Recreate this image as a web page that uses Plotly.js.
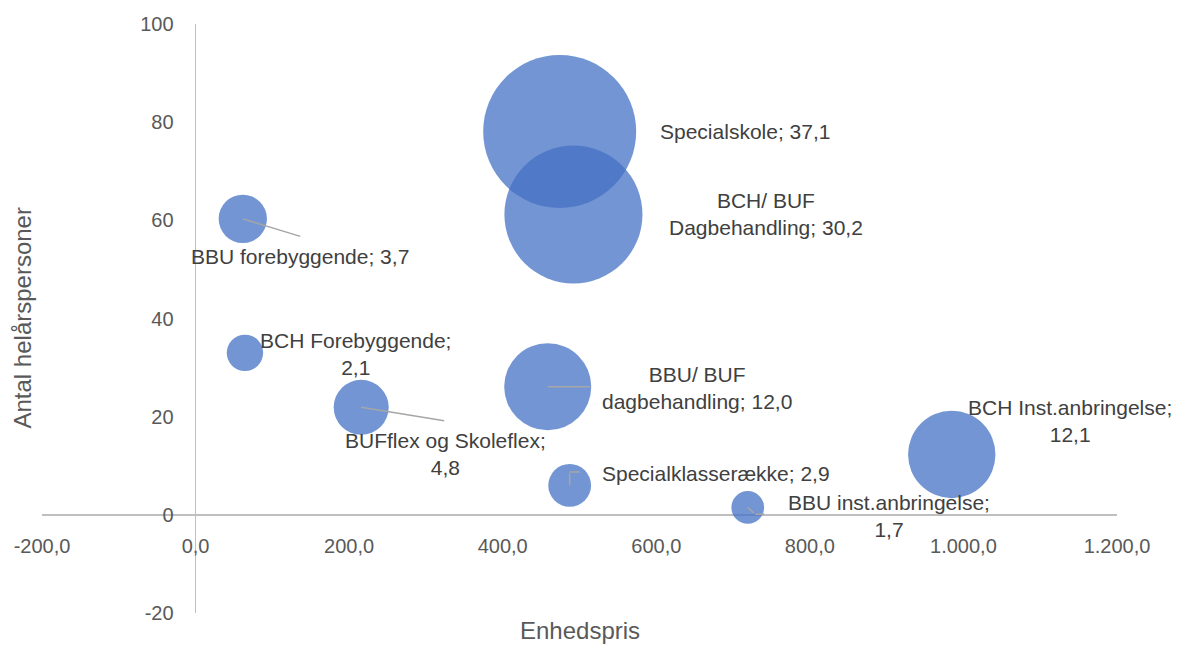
<!DOCTYPE html>
<html>
<head>
<meta charset="utf-8">
<script src="https://cdn.plot.ly/plotly-3.0.1.min.js"></script>
<style>html,body{margin:0;padding:0;background:#fff;}</style>
</head>
<body>
<div id="chart" style="width:1177px;height:645px;"></div>
<script>
// ---- data ----
const categories = ['BBU forebyggende', 'BCH Forebyggende', 'BUFflex og Skoleflex', 'BBU/ BUF dagbehandling',
  'Specialklasserække', 'BBU inst.anbringelse', 'BCH Inst.anbringelse', 'BCH/ BUF Dagbehandling', 'Specialskole'];
const unitPrice = [61.5, 64.3, 215.7, 458.6, 487.2, 719.1, 984.8, 492.1, 474.2];      // Enhedspris
const fullTimePersons = [60.3, 33.0, 21.9, 26.1, 6.0, 1.5, 12.3, 61.2, 78.1];          // Antal helårspersoner
const bubbleSize = [3.7, 2.1, 4.8, 12.0, 2.9, 1.7, 12.1, 30.2, 37.1];
const labelText = ['BBU forebyggende; 3,7', 'BCH Forebyggende;<br>2,1', 'BUFflex og Skoleflex;<br>4,8',
  'BBU/ BUF<br>dagbehandling; 12,0', 'Specialklasserække; 2,9', 'BBU inst.anbringelse;<br>1,7',
  'BCH Inst.anbringelse;<br>12,1', 'BCH/ BUF<br>Dagbehandling; 30,2', 'Specialskole; 37,1'];
const xTickValues = [-200, 0, 200, 400, 600, 800, 1000, 1200];
const xTickLabels = ['-200,0', '0,0', '200,0', '400,0', '600,0', '800,0', '1.000,0', '1.200,0'];
const yTickValues = [-20, 0, 20, 40, 60, 80, 100];
const yTickLabels = ['-20', '0', '20', '40', '60', '80', '100'];
const xTitle = 'Enhedspris';
const yTitle = 'Antal helårspersoner';

// ---- label placement (pixel offsets from each bubble) ----
const labelPlacement = [
  {xshift: 57, yshift: -38, xanchor: 'center'},
  {xshift: 111, yshift: -1, xanchor: 'center'},
  {xshift: 84, yshift: -47, xanchor: 'center'},
  {xshift: 149, yshift: -1, xanchor: 'center'},
  {xshift: 30, yshift: 12, xanchor: 'left'},
  {xshift: 141, yshift: -9, xanchor: 'center'},
  {xshift: 118, yshift: 33, xanchor: 'center'},
  {xshift: 192.5, yshift: 0, xanchor: 'center'},
  {xshift: 98, yshift: 0, xanchor: 'left'}
];
// leader line segments: [pointIndex, xshift, yshift, ax, ay]
const leaderSegments = [
  [0, 0, 0, 59, 18],
  [2, 0, 0, 84.5, 13.7],
  [3, 0, 0, 44, 0],
  [4, 0, 0, 0, -13.3],
  [4, 0, 13.3, 11.7, 0],
  [5, 0, 0, 7.5, 6.7],
  [5, 7.5, -6.7, 10.7, 0]
];

const FONT = '"Liberation Sans", Arial, sans-serif';
const maxSize = Math.max(...bubbleSize);
const maxRadius = 76.5;

const trace = {
  type: 'scatter',
  mode: 'markers',
  x: unitPrice,
  y: fullTimePersons,
  text: categories,
  marker: {
    size: bubbleSize,
    sizemode: 'area',
    sizeref: maxSize / (2 * maxRadius * maxRadius),
    color: '#4472C4',
    opacity: 0.75,
    line: {width: 0}
  },
  hoverinfo: 'skip',
  cliponaxis: false
};

const annotations = [];
labelText.forEach((t, i) => {
  const p = labelPlacement[i];
  annotations.push({
    x: unitPrice[i], y: fullTimePersons[i], xref: 'x', yref: 'y',
    text: t, showarrow: false, align: 'center',
    xanchor: p.xanchor, yanchor: 'middle', xshift: p.xshift, yshift: p.yshift,
    font: {family: FONT, size: 21, color: '#404040'}
  });
});
leaderSegments.forEach(s => {
  const i = s[0];
  annotations.push({
    x: unitPrice[i], y: fullTimePersons[i], xref: 'x', yref: 'y',
    text: '', showarrow: true, arrowhead: 0, arrowwidth: 1.5, arrowcolor: '#a6a6a6',
    xshift: s[1], yshift: s[2], ax: s[3], ay: s[4], standoff: 0, startstandoff: 0
  });
});
annotations.push({
  xref: 'paper', yref: 'paper', x: 0.5, y: 0, xanchor: 'center', yanchor: 'middle', yshift: -17,
  text: xTitle, showarrow: false, font: {family: FONT, size: 24, color: '#595959'}
});
annotations.push({
  xref: 'paper', yref: 'paper', x: 0, y: 0.5, xanchor: 'center', yanchor: 'middle', xshift: -20,
  textangle: -90, text: yTitle, showarrow: false, font: {family: FONT, size: 24, color: '#595959'}
});

const layout = {
  width: 1177, height: 645,
  margin: {l: 42, r: 60, t: 24, b: 32, pad: 0},
  paper_bgcolor: '#ffffff', plot_bgcolor: '#ffffff',
  showlegend: false,
  font: {family: FONT, color: '#595959'},
  xaxis: {
    range: [-200, 1200], anchor: 'free', position: 0.1668,
    tickmode: 'array', tickvals: xTickValues, ticktext: xTickLabels,
    showgrid: false, showline: false, ticks: '',
    zeroline: true, zerolinecolor: '#bfbfbf', zerolinewidth: 1.5,
    tickfont: {family: FONT, size: 20, color: '#595959'},
    ticklabelstandoff: 17, fixedrange: true
  },
  yaxis: {
    range: [-20, 100], anchor: 'free', position: 0.1429,
    tickmode: 'array', tickvals: yTickValues, ticktext: yTickLabels,
    showgrid: false, showline: false, ticks: '',
    zeroline: true, zerolinecolor: '#bfbfbf', zerolinewidth: 1.5,
    tickfont: {family: FONT, size: 20, color: '#595959'},
    ticklabelstandoff: 22, fixedrange: true
  },
  annotations: annotations
};

Plotly.newPlot('chart', [trace], layout, {displayModeBar: false, staticPlot: true});
</script>
</body>
</html>
